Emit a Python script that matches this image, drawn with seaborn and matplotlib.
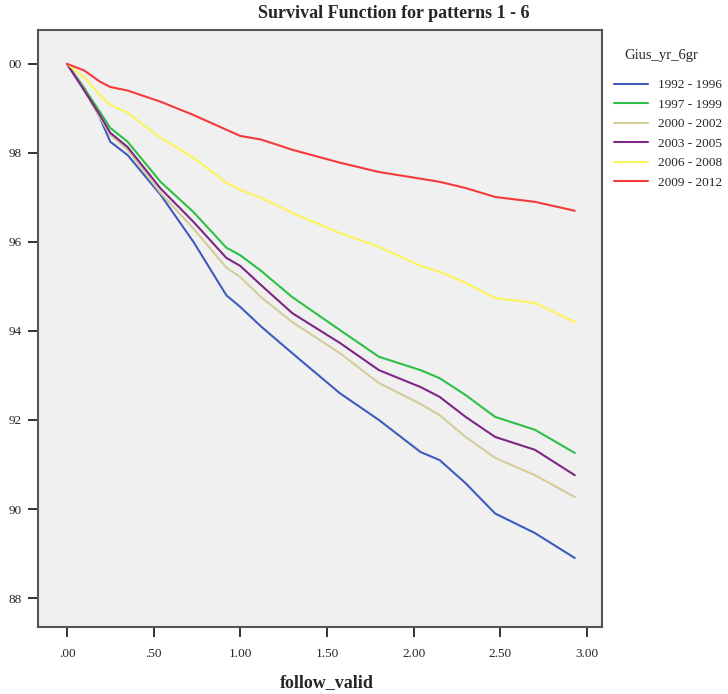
import numpy as np
import pandas as pd
import matplotlib
matplotlib.use("Agg")
import matplotlib.pyplot as plt
import seaborn as sns

# time points (follow_valid)
times = [0, 0.1, 0.19, 0.25, 0.35, 0.54, 0.73, 0.92, 1.0, 1.12, 1.3, 1.575,
         1.8, 2.04, 2.15, 2.3, 2.47, 2.7, 2.93]

# survival (%) per group at those times
surv_1992 = [100, 99.45, 98.79, 98.25, 97.95, 97.06, 96.0, 94.8, 94.54, 94.1, 93.5, 92.6,
             92.0, 91.28, 91.1, 90.58, 89.9, 89.46, 88.9]
surv_1997 = [100, 99.45, 98.92, 98.56, 98.25, 97.35, 96.67, 95.87, 95.7, 95.35, 94.76, 94.02,
             93.42, 93.12, 92.94, 92.56, 92.07, 91.78, 91.26]
surv_2000 = [100, 99.4, 98.8, 98.4, 98.07, 97.1, 96.3, 95.42, 95.21, 94.76, 94.2, 93.5,
             92.83, 92.36, 92.11, 91.62, 91.15, 90.76, 90.27]
surv_2003 = [100, 99.4, 98.85, 98.45, 98.13, 97.2, 96.45, 95.64, 95.46, 95.03, 94.4, 93.73,
             93.12, 92.74, 92.52, 92.07, 91.62, 91.33, 90.76]
surv_2006 = [100, 99.7, 99.3, 99.08, 98.9, 98.34, 97.89, 97.33, 97.17, 96.99, 96.65, 96.2,
             95.89, 95.46, 95.33, 95.08, 94.74, 94.63, 94.2]
surv_2009 = [100, 99.85, 99.6, 99.48, 99.4, 99.15, 98.85, 98.52, 98.38, 98.3, 98.07, 97.78,
             97.57, 97.42, 97.35, 97.21, 97.01, 96.9, 96.7]

groups = ["1992 - 1996", "1997 - 1999", "2000 - 2002", "2003 - 2005", "2006 - 2008", "2009 - 2012"]
colors = ["#3f5bbd", "#2ebf46", "#d4cd9a", "#7e2585", "#f9f55a", "#f43a3a"]

xticks = [0, 0.5, 1.0, 1.5, 2.0, 2.5, 3.0]
xtick_labels = [".00", ".50", "1.00", "1.50", "2.00", "2.50", "3.00"]
yticks = [88, 90, 92, 94, 96, 98, 100]
ytick_labels = ["88", "90", "92", "94", "96", "98", "00"]

# long table for seaborn
all_surv = [surv_1992, surv_1997, surv_2000, surv_2003, surv_2006, surv_2009]
rows = []
for g, s in zip(groups, all_surv):
    for t, v in zip(times, s):
        rows.append({"follow_valid": t, "surv": v, "group": g})
df = pd.DataFrame(rows)

sns.set_style("ticks", {"axes.facecolor": "#f0f0f0", "axes.edgecolor": "#555555"})
plt.rcParams["font.family"] = ["Liberation Serif", "DejaVu Serif"]

fig = plt.figure(figsize=(7.28, 6.94), dpi=100)
ax = fig.add_axes([38 / 728, 1 - 627 / 694, (602 - 38) / 728, (627 - 30) / 694])

sns.lineplot(data=df, x="follow_valid", y="surv", hue="group", palette=colors,
             hue_order=groups, linewidth=1.5, ax=ax, legend=False)

ax.set_xlim(-0.167, 3.087)
ax.set_ylim(87.35, 100.76)
ax.set_xticks(xticks)
ax.set_xticklabels(xtick_labels)
ax.set_yticks(yticks)
ax.set_yticklabels(ytick_labels)
ax.tick_params(axis="both", length=7, width=1.4, color="#333333", labelsize=9.5, pad=5)
ax.tick_params(axis="x", pad=8)
for sp in ax.spines.values():
    sp.set_linewidth(1.5)
    sp.set_color("#555555")
ax.set_xlabel("")
ax.set_ylabel("")

fig.text(394 / 728, 1 - 14 / 694, "Survival Function for patterns 1 - 6",
         ha="center", va="center", fontsize=13, fontweight="bold")
fig.text(327 / 728, 1 - 683 / 694, "follow_valid",
         ha="center", va="center", fontsize=13, fontweight="bold")

# legend outside on the right
fig.text(624 / 728, 1 - 55 / 694, "Gius_yr_6gr", ha="left", va="center", fontsize=10.5)
handles = [plt.Line2D([], [], color=c, linewidth=1.5) for c in colors]
leg = fig.legend(handles, groups, loc="upper left",
                 bbox_to_anchor=(614 / 728, 1 - 79 / 694), frameon=False,
                 fontsize=9.5, handlelength=2.6, borderpad=0,
                 handletextpad=0.7, labelspacing=0.55, borderaxespad=0)

fig.savefig("out.png", dpi=100)
